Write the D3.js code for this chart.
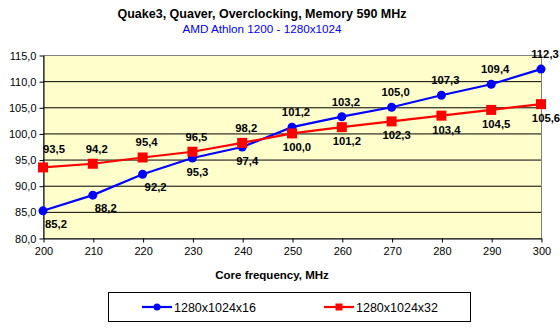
<!DOCTYPE html>
<html>
<head>
<meta charset="utf-8">
<script src="https://cdn.jsdelivr.net/npm/d3@7"></script>
<style>
  body { margin: 0; background: #fff; }
  text { font-family: Arial, "Liberation Sans", sans-serif; }
</style>
</head>
<body>
<div id="container"></div>
<script>
/* DATA */
const freqs = [200, 210, 220, 230, 240, 250, 260, 270, 280, 290, 300];
const fps16 = [85.2, 88.2, 92.2, 95.3, 97.4, 101.2, 103.2, 105.0, 107.3, 109.4, 112.3];
const fps32 = [93.5, 94.2, 95.4, 96.5, 98.2, 100.0, 101.2, 102.3, 103.4, 104.5, 105.6];
const seriesNames = ["1280x1024x16", "1280x1024x32"];
const yTicks = [80, 85, 90, 95, 100, 105, 110, 115];

// where each value label sits relative to its point
const place16 = ["br", "br", "br", "b", "b", "a", "a", "a", "a", "a", "a"];
const place32 = ["ar", "a", "a", "a", "a", "b", "b", "b", "b", "b", "b"];

/* CONSTANTS */
const width = 560,
  height = 335,
  plotLeft = 43,
  plotRight = 541,
  plotTop = 55,
  plotBottom = 238;

const fmt = v => d3.format(".1f")(v).replace(".", ",");

const svg = d3.select("#container")
  .append("svg")
  .attr("width", width)
  .attr("height", height);

/* SCALES */
const x = d3.scaleLinear().domain([200, 300]).range([plotLeft, plotRight]);
const y = d3.scaleLinear().domain([80, 115]).range([plotBottom, plotTop]);

/* TITLES */
svg.append("text")
  .attr("x", 262).attr("y", 18)
  .attr("text-anchor", "middle")
  .style("font-size", "12.5px").style("font-weight", "bold")
  .text("Quake3, Quaver, Overclocking, Memory 590 MHz");

svg.append("text")
  .attr("x", 262).attr("y", 33)
  .attr("text-anchor", "middle")
  .style("font-size", "11.7px").style("fill", "#0000ff")
  .text("AMD Athlon 1200 - 1280x1024");

/* PLOT AREA */
svg.append("rect")
  .attr("x", plotLeft + 0.5).attr("y", plotTop + 0.5)
  .attr("width", plotRight - plotLeft).attr("height", plotBottom - plotTop)
  .style("fill", "#ffffcc")
  .style("stroke", "#808080");

svg.append("g")
  .selectAll("line")
  .data(yTicks.slice(1, -1))
  .join("line")
  .attr("x1", plotLeft).attr("x2", plotRight)
  .attr("y1", d => y(d) + 0.5).attr("y2", d => y(d) + 0.5)
  .style("stroke", "#000");

/* AXES */
const yAxis = svg.append("g")
  .attr("transform", `translate(${plotLeft + 0.5},0.5)`)
  .call(d3.axisLeft(y).tickValues(yTicks).tickFormat(fmt).tickSize(4).tickSizeOuter(0));

const xAxis = svg.append("g")
  .attr("transform", `translate(0.5,${plotBottom + 0.5})`)
  .call(d3.axisBottom(x).tickValues(freqs).tickSize(4).tickSizeOuter(0));

[yAxis, xAxis].forEach(g => {
  g.selectAll("path, line").style("stroke", "#000");
  g.selectAll("text").style("font-size", "11px").style("fill", "#000")
    .style("font-family", "Arial, 'Liberation Sans', sans-serif");
});
yAxis.selectAll("text").attr("x", -7);
xAxis.selectAll("text").attr("y", 9);

svg.append("text")
  .attr("x", 272).attr("y", 279)
  .attr("text-anchor", "middle")
  .style("font-size", "11.5px").style("font-weight", "bold")
  .text("Core frequency, MHz");

/* SERIES */
const series = [
  { name: seriesNames[0], values: fps16, place: place16, color: "#0000ff", shape: "circle" },
  { name: seriesNames[1], values: fps32, place: place32, color: "#ff0000", shape: "square" }
];

const line = d3.line()
  .x((d, i) => x(freqs[i]))
  .y(d => y(d));

function marker(sel, s, size) {
  if (s.shape === "circle") {
    sel.append("circle").attr("r", size / 2).style("fill", s.color);
  } else {
    sel.append("rect")
      .attr("x", -size / 2).attr("y", -size / 2)
      .attr("width", size).attr("height", size)
      .style("fill", s.color);
  }
}

series.forEach(s => {
  svg.append("path")
    .datum(s.values)
    .attr("d", line)
    .style("fill", "none")
    .style("stroke", s.color)
    .style("stroke-width", 2.2);
});

series.forEach(s => {
  s.values.forEach((v, i) => {
    const g = svg.append("g").attr("transform", `translate(${x(freqs[i])},${y(v)})`);
    marker(g, s, s.shape === "circle" ? 9 : 10);
  });
});

// value labels
const offsets = {
  a: [4, -11],
  b: [5, 18],
  ar: [11, -14],
  br: [13, 17]
};

series.forEach(s => {
  svg.append("g")
    .selectAll("text")
    .data(s.values)
    .join("text")
    .attr("x", (d, i) => x(freqs[i]) + offsets[s.place[i]][0])
    .attr("y", (d, i) => y(d) + offsets[s.place[i]][1])
    .attr("text-anchor", "middle")
    .style("font-size", "11.3px").style("font-weight", "bold")
    .text(fmt);
});

/* LEGEND */
svg.append("rect")
  .attr("x", 108.5).attr("y", 292.5)
  .attr("width", 362).attr("height", 29)
  .style("fill", "none").style("stroke", "#000");

const legendX = [142, 324];
series.forEach((s, i) => {
  const lg = svg.append("g").attr("transform", `translate(${legendX[i]},307)`);
  lg.append("line")
    .attr("x1", 0).attr("x2", 30)
    .style("stroke", s.color).style("stroke-width", 2.2);
  const m = lg.append("g").attr("transform", "translate(15,0)");
  marker(m, s, 7);
  lg.append("text")
    .attr("x", 32).attr("y", 4.5)
    .style("font-size", "12.5px")
    .text(s.name);
});
</script>
</body>
</html>
